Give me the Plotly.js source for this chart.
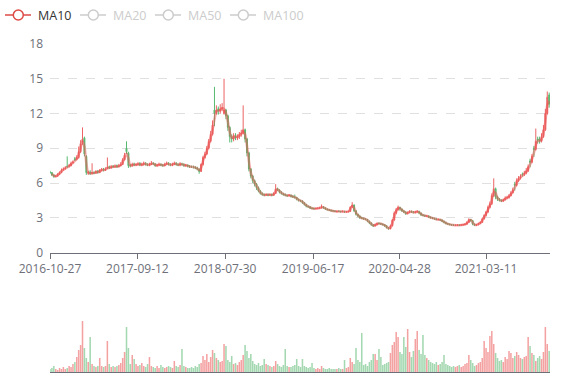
<!DOCTYPE html>
<html><head><meta charset="utf-8">
<script src="https://cdn.plot.ly/plotly-3.0.1.min.js"></script>
<style>html,body{margin:0;padding:0;background:#fff}#chart{width:577px;height:380px}</style>
</head><body><div id="chart"></div>
<script>
// weekly candles starting 2016-10-27
const startDate = [2016, 9, 27];
const tickDates = ['2016-10-27','2017-09-12','2018-07-30','2019-06-17','2020-04-28','2021-03-11'];
const yTicks = [0,3,6,9,12,15,18];
const legendNames = ['MA10','MA20','MA50','MA100'];

const openVals = [
6.95,6.9,6.7,6.55,6.6,6.75,6.9,7.15,7.25,7.45,
7.45,7.5,7.75,8.1,8.05,8.2,8.7,9.5,9.9,8.3,
6.85,6.95,6.8,6.9,6.85,7.05,6.9,7.1,7.2,7.1,
7.25,7.4,7.3,7.45,7.4,7.5,7.4,7.5,7.6,8.0,
9.0,8.6,7.55,7.5,7.65,7.55,7.6,7.7,7.55,7.6,
7.7,7.6,7.55,7.6,7.7,7.65,7.5,7.55,7.6,7.55,
7.5,7.6,7.7,7.6,7.55,7.6,7.7,7.6,7.55,7.65,
7.6,7.5,7.55,7.45,7.42,7.4,7.35,7.3,7.2,7.0,
7.6,8.2,8.5,9.0,9.6,10.2,12.3,12.1,12.4,12.2,
12.4,12.0,12.3,11.8,10.8,10.0,9.8,10.1,9.9,10.0,
10.2,10.3,10.6,9.8,8.6,7.2,6.6,6.2,5.9,5.6,
5.3,5.1,5.0,4.95,5.0,4.95,5.0,4.95,5.1,5.5,
5.4,5.2,5.1,5.0,4.95,4.9,4.95,4.85,4.8,4.75,
4.6,4.5,4.45,4.3,4.15,4.0,3.95,3.85,3.8,3.78,
3.8,3.82,3.85,3.95,3.85,3.75,3.7,3.65,3.6,3.58,
3.52,3.57,3.55,3.52,3.55,3.5,3.52,3.55,3.9,4.1,
3.6,3.3,3.15,3.0,2.95,2.9,2.85,2.7,2.55,2.4,
2.3,2.4,2.52,2.5,2.45,2.4,2.3,2.15,2.05,2.3,
2.8,3.4,3.7,3.9,3.75,3.6,3.5,3.35,3.45,3.55,
3.5,3.45,3.5,3.55,3.4,3.25,3.2,3.12,3.15,3.05,
3.0,2.95,2.9,2.83,2.85,2.8,2.7,2.6,2.5,2.45,
2.4,2.38,2.33,2.35,2.37,2.35,2.38,2.4,2.45,2.6,
2.85,2.75,2.45,2.35,2.4,2.5,2.6,2.9,3.2,3.5,
3.9,4.2,4.9,5.5,4.8,4.6,4.5,4.45,4.55,4.7,
4.75,4.9,5.15,5.9,5.8,6.2,6.45,6.75,6.75,6.85,
7.05,7.9,7.8,9.0,8.9,9.8,9.8,9.6,10.0,10.6,
12.0,13.6];

const closeVals = [
6.9,6.7,6.55,6.6,6.75,6.9,7.1,7.2,7.3,7.4,
7.5,7.7,7.8,8.0,8.2,8.7,9.4,9.8,8.5,6.9,
6.9,6.8,6.9,6.85,7.0,6.9,7.1,7.15,7.1,7.2,
7.35,7.3,7.4,7.4,7.45,7.4,7.5,7.6,8.0,8.4,
8.7,7.5,7.5,7.6,7.55,7.6,7.65,7.55,7.6,7.7,
7.6,7.55,7.6,7.7,7.65,7.5,7.55,7.6,7.55,7.5,
7.6,7.7,7.6,7.55,7.6,7.7,7.6,7.55,7.65,7.6,
7.5,7.55,7.45,7.4,7.4,7.35,7.3,7.2,7.0,7.6,
8.2,8.5,9.0,9.6,10.2,11.0,12.0,12.3,12.2,12.4,
12.5,12.3,11.8,10.8,10.0,9.8,10.1,9.9,10.0,10.2,
10.3,10.6,9.8,8.6,7.2,6.6,6.2,5.9,5.6,5.3,
5.1,5.0,4.95,5.0,4.95,5.0,4.95,5.1,5.5,5.4,
5.2,5.1,5.0,4.95,4.9,4.95,4.85,4.8,4.75,4.6,
4.5,4.45,4.3,4.15,4.0,3.95,3.85,3.8,3.78,3.8,
3.82,3.85,3.95,3.85,3.75,3.7,3.65,3.6,3.58,3.55,
3.55,3.55,3.52,3.55,3.5,3.52,3.55,3.9,4.1,3.6,
3.3,3.15,3.0,2.95,2.9,2.85,2.7,2.55,2.4,2.3,
2.4,2.5,2.5,2.45,2.4,2.3,2.15,2.05,2.3,2.8,
3.4,3.7,3.9,3.75,3.6,3.5,3.35,3.45,3.55,3.5,
3.45,3.5,3.55,3.4,3.25,3.2,3.15,3.15,3.05,3.0,
2.95,2.9,2.85,2.85,2.8,2.7,2.6,2.5,2.45,2.4,
2.38,2.35,2.35,2.37,2.35,2.38,2.4,2.45,2.6,2.85,
2.75,2.45,2.35,2.4,2.5,2.6,2.9,3.2,3.5,3.9,
4.2,4.9,5.5,4.8,4.6,4.5,4.45,4.55,4.7,4.75,
4.9,5.15,5.4,5.8,6.2,6.4,6.55,6.7,6.85,7.05,
7.4,7.8,8.3,8.9,9.6,9.7,9.6,10.0,10.6,12.0,
13.4,12.8];

const highVals = [
7.05,6.95,6.75,6.7,6.85,7.0,7.25,7.35,7.45,8.3,
7.65,7.85,7.95,8.25,8.4,9.15,9.7,10.8,10.0,8.4,
7.05,7.1,7.7,7.0,7.1,7.1,7.2,7.3,7.3,7.35,
8.2,7.5,7.55,7.55,7.6,7.6,7.65,7.8,8.15,8.6,
9.6,8.7,7.65,7.75,7.75,7.7,7.8,7.8,7.75,7.85,
7.8,7.7,7.75,7.9,7.8,7.7,7.65,7.75,7.7,7.65,
7.75,7.85,7.8,7.7,7.75,7.85,7.8,7.7,7.8,7.75,
7.7,7.65,7.6,7.55,7.5,7.5,7.45,7.4,7.25,7.7,
8.35,8.7,9.2,9.8,10.5,11.4,14.3,12.7,12.6,12.8,
12.9,15.0,12.4,11.9,10.9,10.2,10.3,10.3,10.2,10.4,
10.6,12.7,10.7,9.9,8.7,7.3,6.7,6.3,6.0,5.7,
5.4,5.2,5.1,5.1,5.1,5.1,5.1,5.2,5.9,5.6,
5.45,5.3,5.15,5.1,5.0,5.05,5.0,4.95,5.0,4.8,
4.65,4.55,4.5,4.35,4.2,4.05,4.0,3.9,3.88,3.88,
3.9,3.95,4.15,4.0,3.9,3.8,3.75,3.7,3.66,3.64,
3.62,3.63,3.6,3.62,3.6,3.58,3.62,4.0,4.35,4.15,
3.65,3.35,3.2,3.08,3.02,2.98,2.9,2.75,2.6,2.45,
2.5,2.6,2.6,2.56,2.5,2.45,2.35,2.2,2.4,2.9,
3.55,3.85,4.05,3.95,3.8,3.65,3.55,3.55,3.65,3.62,
3.58,3.6,3.65,3.6,3.45,3.32,3.27,3.24,3.2,3.12,
3.06,3.0,2.96,2.93,2.9,2.85,2.75,2.65,2.55,2.5,
2.45,2.43,2.42,2.44,2.43,2.45,2.48,2.54,2.7,2.95,
2.9,2.8,2.5,2.48,2.58,2.7,3.0,3.3,3.6,4.05,
4.4,5.1,6.4,5.6,4.9,4.7,4.6,4.65,4.85,4.9,
5.05,5.3,5.6,6.1,6.4,6.6,6.75,6.9,7.05,7.3,
7.6,8.1,8.5,9.2,10.7,10.0,10.0,10.3,11.0,12.4,
13.9,13.8];

const lowVals = [
6.8,6.6,6.45,6.5,6.55,6.7,6.85,7.05,7.15,7.3,
7.35,7.45,7.65,7.9,7.95,8.1,8.6,9.3,8.3,6.7,
6.7,6.7,6.75,6.75,6.8,6.8,6.85,7.0,7.0,7.05,
7.2,7.2,7.25,7.3,7.3,7.3,7.35,7.45,7.55,7.95,
8.5,7.3,7.35,7.4,7.45,7.45,7.5,7.45,7.45,7.5,
7.5,7.45,7.45,7.55,7.55,7.4,7.4,7.45,7.45,7.4,
7.45,7.55,7.5,7.45,7.45,7.55,7.5,7.45,7.45,7.5,
7.4,7.4,7.35,7.3,7.3,7.25,7.2,7.1,6.8,6.95,
7.5,8.1,8.4,8.9,9.5,10.1,10.9,11.9,11.9,12.0,
12.2,11.9,11.5,10.5,9.5,9.5,9.6,9.7,9.7,9.8,
10.0,10.2,9.5,8.3,7.0,6.4,6.0,5.7,5.4,5.2,
5.0,4.9,4.85,4.9,4.85,4.9,4.85,4.9,5.05,5.3,
5.1,5.0,4.9,4.85,4.8,4.85,4.75,4.7,4.65,4.5,
4.4,4.35,4.2,4.05,3.9,3.85,3.75,3.72,3.7,3.72,
3.74,3.76,3.8,3.78,3.68,3.62,3.58,3.54,3.52,3.49,
3.48,3.49,3.46,3.47,3.44,3.45,3.47,3.5,3.85,3.5,
3.2,3.05,2.9,2.88,2.82,2.78,2.62,2.45,2.3,2.2,
2.25,2.35,2.42,2.38,2.33,2.22,2.08,1.98,2.0,2.25,
2.75,3.3,3.6,3.6,3.5,3.4,3.25,3.3,3.4,3.42,
3.38,3.38,3.42,3.3,3.15,3.12,3.08,3.06,2.98,2.94,
2.88,2.84,2.78,2.78,2.72,2.62,2.52,2.42,2.38,2.34,
2.32,2.3,2.28,2.3,2.29,2.3,2.33,2.36,2.4,2.55,
2.65,2.35,2.28,2.3,2.35,2.45,2.55,2.85,3.1,3.4,
3.8,4.1,4.8,4.6,4.45,4.4,4.35,4.38,4.5,4.6,
4.65,4.85,5.1,5.35,5.7,6.1,6.3,6.55,6.6,6.75,
6.95,7.35,7.7,8.25,8.8,9.4,9.4,9.5,9.9,10.5,
11.9,12.5];

const volumeVals = [
3,4,6,3,2,4,3,5,3,4,
6,5,8,10,15,22,27,51,24,14,
10,35,8,6,5,6,14,6,5,6,
31,8,5,6,5,6,7,9,14,20,
45,24,8,17,13,8,6,7,9,6,
5,8,15,6,5,4,6,4,7,5,
4,5,6,5,4,11,6,5,7,23,
6,5,4,4,5,4,6,5,8,9,
16,12,18,10,15,22,19,14,12,10,
11,28,26,12,10,16,8,9,7,10,
12,17,27,21,14,18,11,8,7,9,
6,7,13,8,7,6,5,6,11,8,
6,5,7,23,6,5,5,6,7,13,
6,5,13,6,5,4,5,9,4,3,
4,3,6,4,3,3,4,3,3,3,
3,4,3,3,12,4,5,14,10,8,
24,12,10,39,7,8,6,10,12,18,
18,12,23,15,7,8,9,10,19,27,
30,40,35,20,18,35,25,43,20,15,
21,33,41,22,18,37,17,14,12,10,
9,8,10,7,8,10,17,8,7,6,
5,6,5,6,7,5,6,8,9,17,
12,9,6,7,9,10,14,31,24,20,
36,41,28,19,14,11,12,10,15,13,
21,19,14,16,20,17,14,13,15,16,
35,26,19,17,11,14,16,13,20,45,
28,21];

// category dates (one candle per week)
const dates = closeVals.map((_, i) => {
  const d = new Date(Date.UTC(startDate[0], startDate[1], startDate[2]));
  d.setUTCDate(d.getUTCDate() + 7 * i);
  return d.toISOString().slice(0, 10);
});

// 10 trading days = 2 weekly candles
function movingAvg(arr, n) {
  return arr.map((v, i) => {
    if (i < n - 1) return null;
    let s = 0;
    for (let k = i - n + 1; k <= i; k++) s += arr[k];
    return s / n;
  });
}
const ma10 = movingAvg(closeVals, 2);

const UP = '#eb5454', DOWN = '#47b262';
const volColors = closeVals.map((c, i) => c >= openVals[i] ? 'rgba(235,84,84,0.55)' : 'rgba(71,178,98,0.5)');

const traces = [
  {
    type: 'candlestick', x: dates, open: openVals, high: highVals, low: lowVals, close: closeVals,
    increasing: {line: {color: UP, width: 1}, fillcolor: UP},
    decreasing: {line: {color: DOWN, width: 1}, fillcolor: DOWN},
    whiskerwidth: 0, opacity: 0.9, hoverinfo: 'skip', showlegend: false, xaxis: 'x', yaxis: 'y'
  },
  {
    type: 'scatter', mode: 'lines', x: dates, y: ma10, name: 'MA10',
    line: {color: UP, width: 2.5, shape: 'spline', smoothing: 0.8}, opacity: 0.5,
    hoverinfo: 'skip', showlegend: false, xaxis: 'x', yaxis: 'y'
  },
  {
    type: 'bar', x: dates, y: volumeVals, marker: {color: volColors, line: {width: 0}},
    hoverinfo: 'skip', showlegend: false, xaxis: 'x2', yaxis: 'y2'
  }
];

// layout geometry (pixels)
const W = 577, H = 380, mL = 50, mR = 27, mT = 44, mB = 8;
const pw = W - mL - mR, ph = H - mT - mB;
const px = x => (x - mL) / pw;
const py = y => (H - mB - y) / ph;

const legendItems = [
  {name: legendNames[0], x0: 5, on: true},
  {name: legendNames[1], x0: 80, on: false},
  {name: legendNames[2], x0: 155, on: false},
  {name: legendNames[3], x0: 230, on: false}
];
const shapes = [], annotations = [];
legendItems.forEach(it => {
  const col = it.on ? '#dd4b46' : '#cccccc';
  const cy = 15, cx = it.x0 + 13.3;
  shapes.push({type: 'line', xref: 'paper', yref: 'paper', x0: px(it.x0), x1: px(it.x0 + 26), y0: py(cy), y1: py(cy),
    line: {color: col, width: 1.5}});
  shapes.push({type: 'circle', xref: 'paper', yref: 'paper', x0: px(cx - 5), x1: px(cx + 5), y0: py(cy + 5), y1: py(cy - 5),
    fillcolor: '#ffffff', line: {color: col, width: 1.5}});
  annotations.push({xref: 'paper', yref: 'paper', x: px(it.x0 + 31), y: py(cy), xanchor: 'left', yanchor: 'middle',
    text: it.name, showarrow: false, font: {size: 12.5, color: it.on ? '#333333' : '#cccccc'}});
});

const xRange = ['2016-10-27', '2021-10-31'];
const layout = {
  width: W, height: H, margin: {l: mL, r: mR, t: mT, b: mB},
  paper_bgcolor: '#fff', plot_bgcolor: '#fff', showlegend: false,
  font: {family: 'Open Sans, sans-serif', size: 12, color: '#6e7079'},
  xaxis: {type: 'date', domain: [0, 1], anchor: 'y', range: xRange, tickvals: tickDates, ticktext: tickDates,
    showgrid: false, zeroline: false, showline: true, linecolor: '#6e7079', linewidth: 1,
    ticks: 'outside', ticklen: 5, tickcolor: '#6e7079', tickfont: {size: 12, color: '#6e7079'},
    rangeslider: {visible: false}, fixedrange: true},
  yaxis: {domain: [py(252.5), 1], range: [0, 18], tickvals: yTicks, showgrid: true, gridcolor: '#e0e0e0',
    griddash: 'dash', zeroline: false, showline: false, ticks: '', ticklabelstandoff: 6,
    tickfont: {size: 12, color: '#6e7079'}, fixedrange: true},
  xaxis2: {type: 'date', domain: [0, 1], anchor: 'y2', range: xRange, showticklabels: false, showgrid: false,
    zeroline: false, showline: true, linecolor: '#6e7079', linewidth: 1, ticks: '', rangeslider: {visible: false}},
  yaxis2: {domain: [0, 60 / ph], range: [0, 60], visible: false, showgrid: false, zeroline: false},
  bargap: 0.2,
  shapes: shapes, annotations: annotations
};

Plotly.newPlot('chart', traces, layout, {displayModeBar: false, staticPlot: true});
</script>
</body></html>
